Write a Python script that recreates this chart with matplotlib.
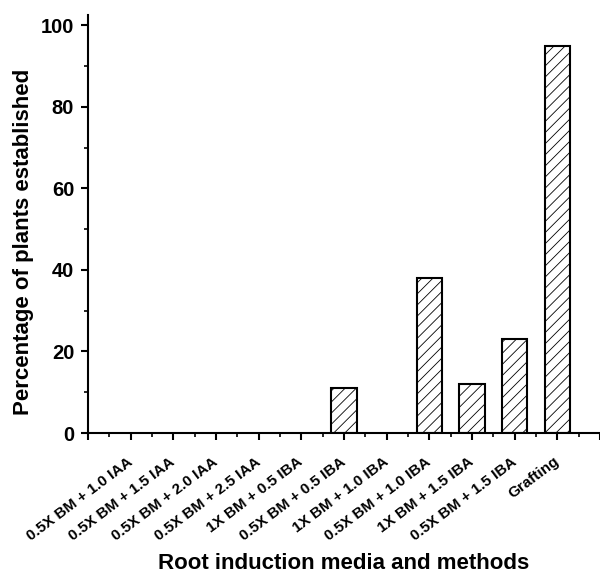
import matplotlib
matplotlib.use("Agg")
import matplotlib.pyplot as plt
from matplotlib.ticker import MultipleLocator

categories = ["0.5X BM + 1.0 IAA", "0.5X BM + 1.5 IAA", "0.5X BM + 2.0 IAA",
              "0.5X BM + 2.5 IAA", "1X BM + 0.5 IBA", "0.5X BM + 0.5 IBA",
              "1X BM + 1.0 IBA", "0.5X BM + 1.0 IBA", "1X BM + 1.5 IBA",
              "0.5X BM + 1.5 IBA", "Grafting"]
values = [0, 0, 0, 0, 0, 11, 0, 38, 12, 23, 95]

plt.rcParams['font.family'] = ['Liberation Sans', 'DejaVu Sans']
plt.rcParams['hatch.linewidth'] = 0.6
plt.rcParams['hatch.color'] = '#333333'

fig = plt.figure(figsize=(6, 5.73), dpi=100)
ax = fig.add_axes([0.1467, 0.2443, 0.8533, 0.7295])

pos = list(range(1, len(categories) + 1))
nonzero = [(p, v) for p, v in zip(pos, values) if v > 0]
ax.bar([p for p, v in nonzero], [v for p, v in nonzero], width=0.6,
       color='white', edgecolor='black', linewidth=1.5, hatch='///')

ax.set_xlim(0, 12)
ax.set_ylim(0, 102.5)
ax.set_xticks(range(0, 13))
ax.set_xticklabels([''] + categories + [''], rotation=37, ha='right', va='center',
                   rotation_mode='anchor', fontsize=11, fontweight='bold')
ax.xaxis.set_minor_locator(MultipleLocator(0.5))
ax.yaxis.set_major_locator(MultipleLocator(20))
ax.yaxis.set_minor_locator(MultipleLocator(10))
for lab in ax.get_yticklabels():
    lab.set_fontweight('bold')
    lab.set_fontsize(14.5)

ax.tick_params(axis='both', which='major', direction='out', length=5, width=1.5)
ax.tick_params(axis='both', which='minor', direction='out', length=3, width=1.2)
ax.tick_params(axis='x', which='major', pad=14.5)
ax.tick_params(axis='y', which='major', pad=5)

ax.spines['top'].set_visible(False)
ax.spines['right'].set_visible(False)
ax.spines['left'].set_linewidth(1.5)
ax.spines['bottom'].set_linewidth(1.5)

ax.set_ylabel('Percentage of plants established', fontsize=16, fontweight='bold')
ax.yaxis.set_label_coords(-0.105, 0.458)
ax.set_xlabel('Root induction media and methods', fontsize=16, fontweight='bold')
ax.xaxis.set_label_coords(0.5, -0.288)

fig.savefig('out.png', dpi=100)
